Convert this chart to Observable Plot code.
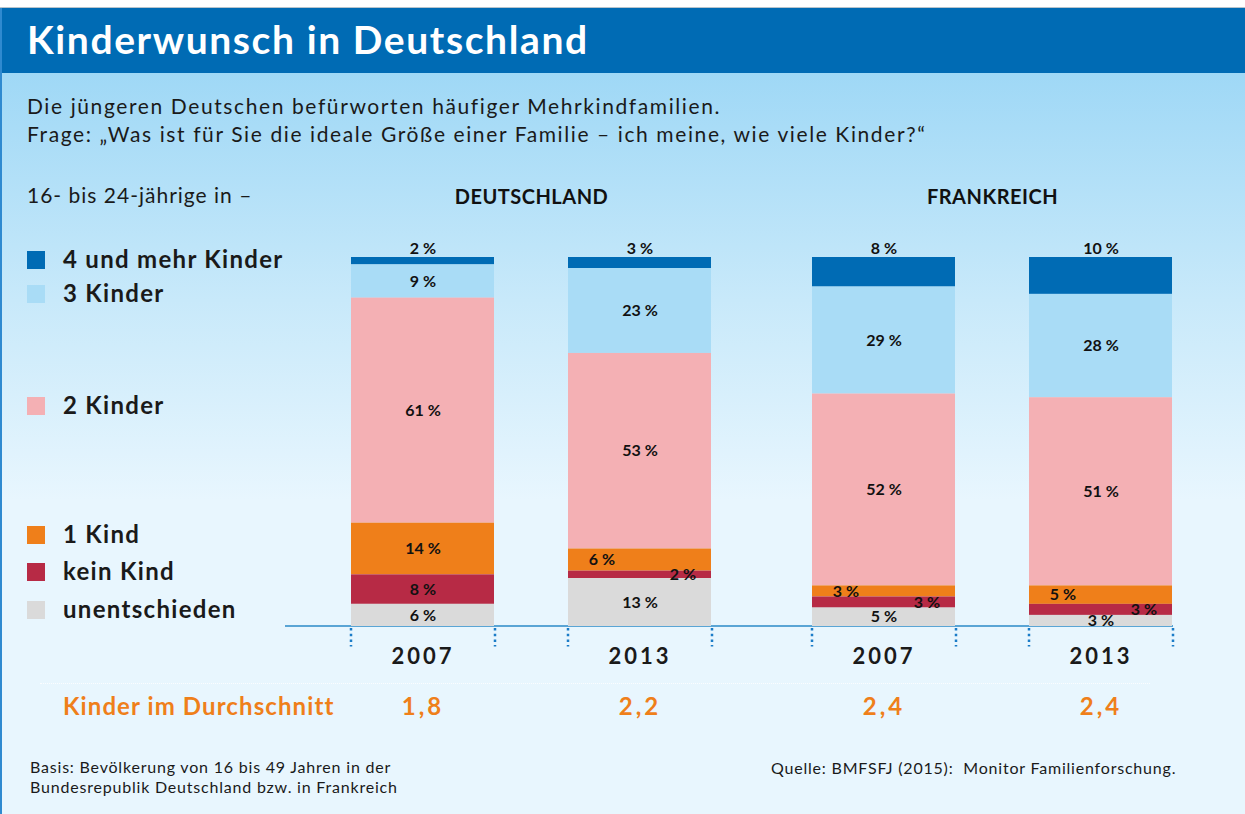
<!DOCTYPE html>
<html><head><meta charset="utf-8">
<script src="https://cdn.jsdelivr.net/npm/d3@7"></script>
<script src="https://cdn.jsdelivr.net/npm/@observablehq/plot@0.6"></script>
<style>
body{margin:0;background:#fff;}
#page{position:relative;width:1245px;height:814px;overflow:hidden;font-family:Lato,"Open Sans",sans-serif;color:#1a1a1a;
background:linear-gradient(to bottom,#ffffff 0px,#ffffff 7px,#9fd8f6 73px,#c8e9fa 300px,#e8f6fe 500px,#e8f6fe 814px);}
.abs{position:absolute;white-space:nowrap;line-height:1;}
#topline{left:0;right:0;top:7px;height:1px;background:#b8c4cc;}
#bar{left:0;right:0;top:8px;height:65px;background:#006bb4;}
#title{left:27px;top:20px;font-size:39px;font-weight:700;color:#fff;letter-spacing:1.6px;}
#leftborder{left:0;top:8px;width:2px;height:806px;background:#2f8ad0;}
.sub{left:27px;font-size:21px;color:#1a1a1a;letter-spacing:1.6px;}
.sw{position:absolute;left:27px;width:18px;height:18px;}
.lg{left:63px;font-size:24px;font-weight:700;color:#1a1a1a;letter-spacing:1.3px;}
#avg{left:63px;top:694px;font-size:24px;font-weight:700;color:#ef7f1a;letter-spacing:1.1px;}
.foot{font-size:16px;color:#1a1a1a;letter-spacing:0.8px;}
#baseline{left:285px;width:888px;top:625px;height:2px;background:#5aa5d5;}
#dotline{left:40px;width:1110px;top:683px;height:0;border-top:1px dotted rgba(255,255,255,0.8);}
#plot{position:absolute;left:0;top:0;}
</style>
</head><body>
<div id="page">
  <div class="abs" id="topline"></div>
  <div class="abs" id="bar"></div>
  <div class="abs" id="title">Kinderwunsch in Deutschland</div>
  <div class="abs" id="leftborder"></div>
  <div class="abs sub" style="top:95px">Die jüngeren Deutschen befürworten häufiger Mehrkindfamilien.</div>
  <div class="abs sub" style="top:123px">Frage: „Was ist für Sie die ideale Größe einer Familie – ich meine, wie viele Kinder?“</div>
  <div class="abs sub" style="top:184px;letter-spacing:1px">16- bis 24-jährige in –</div>
  <div id="legend"></div>
  <div class="abs" id="avg">Kinder im Durchschnitt</div>
  <div class="abs" id="dotline"></div>
  <div class="abs foot" style="left:30px;top:759px">Basis: Bevölkerung von 16 bis 49 Jahren in der</div>
  <div class="abs foot" style="left:30px;top:779px">Bundesrepublik Deutschland bzw. in Frankreich</div>
  <div class="abs foot" style="left:771px;top:760px">Quelle: BMFSFJ (2015):&nbsp; Monitor Familienforschung.</div>
  <div class="abs" id="baseline"></div>
  <div id="plot"></div>
</div>
<script>
// ---- data ----
const countries = ["Deutschland", "Frankreich"];
const years = ["2007", "2013"];
const categories = ["4 und mehr Kinder", "3 Kinder", "2 Kinder", "1 Kind", "kein Kind", "unentschieden"];
const colors = ["#006bb4", "#a9dcf6", "#f4b0b4", "#ef7f1a", "#b72a45", "#dadada"];
const barCountry = ["Deutschland", "Deutschland", "Frankreich", "Frankreich"];
const barYear = ["2007", "2013", "2007", "2013"];
const vierUndMehr = [2, 3, 8, 10];
const dreiKinder = [9, 23, 29, 28];
const zweiKinder = [61, 53, 52, 51];
const einKind = [14, 6, 3, 5];
const keinKind = [8, 2, 3, 3];
const unentschieden = [6, 13, 5, 3];
const durchschnitt = ["1,8", "2,2", "2,4", "2,4"];
const legendRows = [260, 294, 406, 535, 572, 610];

// ---- legend (HTML) ----
const legend = document.getElementById("legend");
categories.forEach((c, i) => {
  const sw = document.createElement("div");
  sw.className = "sw"; sw.style.top = (legendRows[i] - 9) + "px"; sw.style.background = colors[i];
  legend.appendChild(sw);
  const t = document.createElement("div");
  t.className = "abs lg"; t.style.top = (legendRows[i] - 13) + "px"; t.textContent = c;
  legend.appendChild(t);
});

// ---- table ----
const series = [vierUndMehr, dreiKinder, zweiKinder, einKind, keinKind, unentschieden];
const rows = [];
barYear.forEach((y, i) => categories.forEach((c, j) =>
  rows.push({country: barCountry[i], year: y, category: c, value: series[j][i]})));
const bars = barYear.map((y, i) => ({country: barCountry[i], year: y, avg: durchschnitt[i]}));
const stackOrder = categories.slice().reverse();
const pct = d => d.value + " %";
const isTop = d => d.category === categories[0];
const isLeft = d => d.category === "1 Kind" && d.value <= 6;
const isRight = d => d.category === "kein Kind" && d.value <= 3;
const isCenter = d => !isTop(d) && !isLeft(d) && !isRight(d);
const lab = {fontWeight: 700, fontSize: 16, fill: "#111", fontFamily: "Lato, sans-serif"};
const stackLab = (cond, extra) => Plot.text(rows, Plot.stackY({
  fx: "country", x: "year", y: "value", z: "category", order: stackOrder,
  text: d => cond(d) ? pct(d) : null, ...lab, ...extra}));

const chart = Plot.plot({
  width: 1245, height: 814,
  marginLeft: 350, marginRight: 72, marginTop: 257, marginBottom: 188,
  style: {background: "transparent", overflow: "visible"},
  fx: {domain: countries, paddingInner: 0.2148, paddingOuter: 0, axis: null},
  x: {domain: years, paddingInner: 0.3394, paddingOuter: 0, axis: null},
  y: {domain: [0, 100], axis: null},
  color: {domain: categories, range: colors},
  marks: [
    Plot.barY(rows, {fx: "country", x: "year", y: "value", fill: "category", order: stackOrder}),
    stackLab(isCenter, {}),
    stackLab(isLeft, {dx: -38}),
    stackLab(isRight, {dx: 43}),
    Plot.text(rows.filter(isTop), {fx: "country", x: "year", frameAnchor: "top", dy: -15, text: pct, ...lab}),
    Plot.text(countries, {fx: d => d, frameAnchor: "top", dy: -68, text: d => d.toUpperCase(),
      fontWeight: 700, fontSize: 20, fill: "#111", fontFamily: "Lato, sans-serif"}),
    Plot.ruleX(bars, {fx: "country", x: "year", dx: -72, y1: 0, y2: -5, dy: 2, stroke: "#1a7cc8", strokeWidth: 2.5, strokeDasharray: "2.5,3.2"}),
    Plot.ruleX(bars, {fx: "country", x: "year", dx: 72, y1: 0, y2: -5, dy: 2, stroke: "#1a7cc8", strokeWidth: 2.5, strokeDasharray: "2.5,3.2"}),
    Plot.text(bars, {fx: "country", x: "year", frameAnchor: "bottom", dy: 37, text: "year",
      fontWeight: 700, fontSize: 22, fill: "#1a1a1a", fontFamily: "Lato, sans-serif"}),
    Plot.text(bars, {fx: "country", x: "year", frameAnchor: "bottom", dy: 88, text: "avg",
      fontWeight: 700, fontSize: 24, fill: "#ef7f1a", fontFamily: "Lato, sans-serif"})
  ]
});
d3.select(chart).selectAll("text").filter(function() {
  return /^\d{4}$/.test(this.textContent) || /^\d,\d$/.test(this.textContent);
}).attr("letter-spacing", "3px");
d3.select(chart).selectAll("text").filter(function() {
  return /^[A-Z]+$/.test(this.textContent);
}).attr("letter-spacing", "0.5px");
document.getElementById("plot").appendChild(chart);
</script>
</body></html>
